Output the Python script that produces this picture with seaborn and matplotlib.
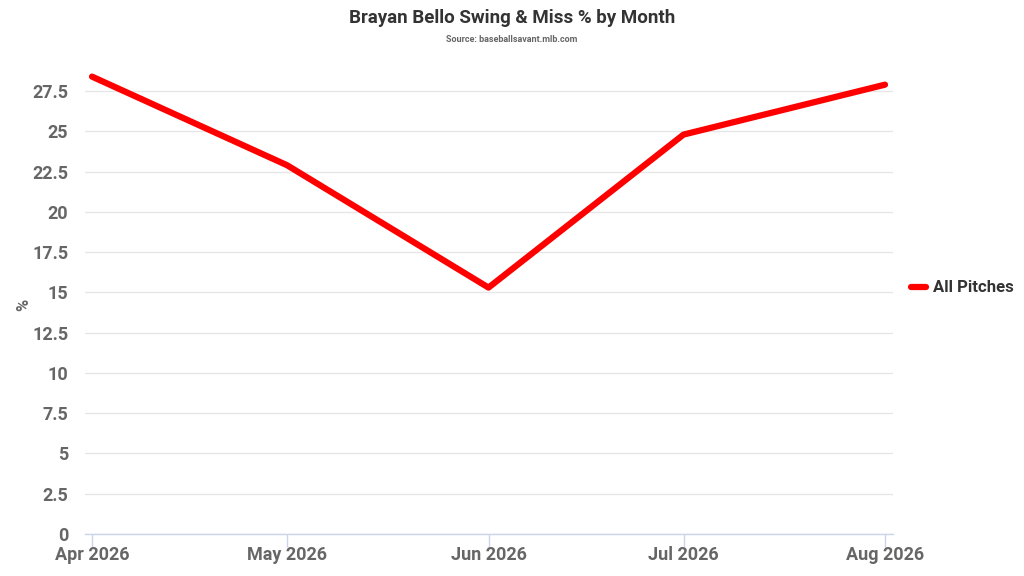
import matplotlib
matplotlib.use("Agg")
import matplotlib.pyplot as plt
import matplotlib.dates as mdates
import seaborn as sns
import pandas as pd
import numpy as np
from matplotlib.lines import Line2D

months = ["2026-04-01", "2026-05-01", "2026-06-01", "2026-07-01", "2026-08-01"]
swing_miss = [28.4, 22.9, 15.3, 24.8, 27.9]
series_name = "All Pitches"
y_ticks = [0, 2.5, 5, 7.5, 10, 12.5, 15, 17.5, 20, 22.5, 25, 27.5]
y_tick_labels = ["0", "2.5", "5", "7.5", "10", "12.5", "15", "17.5", "20", "22.5", "25", "27.5"]

df = pd.DataFrame({"month": pd.to_datetime(months), "value": swing_miss, "series": series_name})

sns.set_theme(style="white")
plt.rcParams["font.family"] = ["Roboto", "DejaVu Sans"]

fig = plt.figure(figsize=(10.24, 5.76), dpi=100)
ax = fig.add_axes([85/1024, 1 - 534/576, (893-85)/1024, (534-75)/576])

sns.lineplot(data=df, x="month", y="value", hue="series", palette=["#ff0000"],
             linewidth=4.5, ax=ax, legend=False, clip_on=False, solid_capstyle="round")

ax.set_ylim(0, 28.5)
ax.set_xlim(pd.Timestamp("2026-04-01") - pd.Timedelta(days=1.08),
            pd.Timestamp("2026-08-01") + pd.Timedelta(days=1.23))
ax.set_yticks(y_ticks)
ax.set_yticklabels(y_tick_labels)
ax.set_xticks(df["month"])
ax.xaxis.set_major_formatter(mdates.DateFormatter("%b %Y"))

ax.grid(axis="y", color="#e6e6e6", linewidth=1)
ax.set_axisbelow(True)
for s in ["top", "right", "left"]:
    ax.spines[s].set_visible(False)
ax.spines["bottom"].set_color("#ccd6eb")
ax.spines["bottom"].set_linewidth(1)

ax.tick_params(axis="x", bottom=True, direction="out", colors="#ccd6eb", length=9, width=1,
               pad=0, labelcolor="#666666", labelsize=13)
ax.tick_params(axis="y", left=False, length=0, pad=12, labelcolor="#666666", labelsize=13)
for lbl in ax.get_xticklabels() + ax.get_yticklabels():
    lbl.set_fontweight("bold")

ax.set_xlabel("")
ax.set_ylabel("%", fontsize=12, fontweight="bold", color="#666666")
ax.yaxis.set_label_coords(-54/808, 0.5)

fig.text(0.5, 1 - 18/576, "Brayan Bello Swing & Miss % by Month", ha="center", va="center",
         fontsize=13.5, fontweight="bold", color="#333333")
fig.text(0.5, 1 - 39/576, "Source: baseballsavant.mlb.com", ha="center", va="center",
         fontsize=6.5, fontweight="bold", color="#666666")

handle = Line2D([0], [0], color="#ff0000", linewidth=4.5)
fig.legend([handle], [series_name], loc="center left", bbox_to_anchor=(906/1024, 1 - 288/576),
           frameon=False, handlelength=0.9, handletextpad=0.4, borderaxespad=0, borderpad=0.3,
           prop={"family": "Roboto", "weight": "bold", "size": 12}, labelcolor="#333333")

fig.savefig("out.png", dpi=100)
